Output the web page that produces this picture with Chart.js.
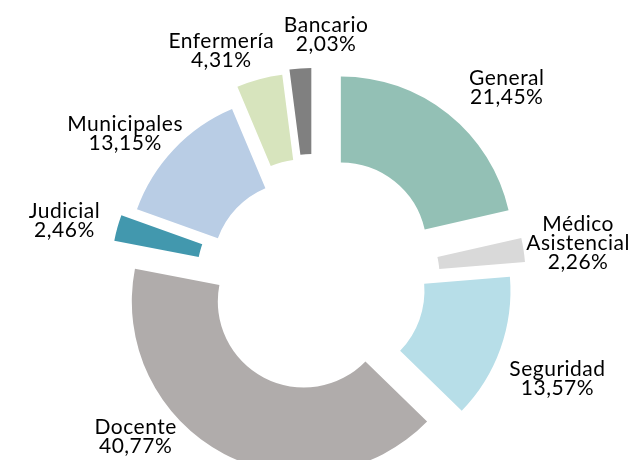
<!DOCTYPE html>
<html>
<head>
<meta charset="utf-8">
<script src="https://cdn.jsdelivr.net/npm/chart.js@4.4.0/dist/chart.umd.min.js"></script>
<style>
  html, body { margin: 0; padding: 0; background: #fff; }
  #wrap { width: 629px; height: 460px; }
</style>
</head>
<body>
<div id="wrap"><canvas id="chartCanvas" width="629" height="460"></canvas></div>
<script>
// Datos (porcentaje por sector)
const categorias = ["General", ["Médico", "Asistencial"], "Seguridad", "Docente", "Judicial", "Municipales", "Enfermería", "Bancario"];
const porcentajes = [21.45, 2.26, 13.57, 40.77, 2.46, 13.15, 4.31, 2.03];

// Estilo
const colores = ["#93c0b5", "#d9d9d9", "#b7dee8", "#b0acab", "#4298ae", "#b9cde5", "#d7e4bd", "#808080"];
const separacion = [43, 40, 26, 22, 32, 21, 38, 42]; // px que se separa cada porción (tipo Excel)
const giroEtiqueta = [6.1, 0.3, 1.9, 21.5, -1.6, -5.4, -6.8, 6.45]; // grados respecto al centro de la porción
const distEtiqueta = [274, 267, 262, 236, 257, 240, 249, 248];

const fuente = "21px Lato";
const altoLinea = 19;

function formato(v) {
  return v.toFixed(2).replace(".", ",") + "%";
}

// Separar porciones: traslada cada arco a lo largo de su ángulo medio
const explotar = {
  id: "explotar",
  afterDatasetUpdate(chart, args) {
    args.meta.data.forEach((arc, i) => {
      const mid = (arc.startAngle + arc.endAngle) / 2;
      arc.x += Math.cos(mid) * separacion[i];
      arc.y += Math.sin(mid) * separacion[i];
    });
  }
};

// Etiquetas de datos (nombre + porcentaje)
const etiquetas = {
  id: "etiquetas",
  afterDatasetsDraw(chart) {
    const ctx = chart.ctx;
    const meta = chart.getDatasetMeta(0);
    const area = chart.chartArea;
    const cx = (area.left + area.right) / 2;
    const cy = (area.top + area.bottom) / 2;
    ctx.save();
    ctx.font = fuente;
    ctx.letterSpacing = "0.5px";
    ctx.fillStyle = "#000";
    ctx.textAlign = "center";
    ctx.textBaseline = "middle";
    meta.data.forEach((arc, i) => {
      const ang = (arc.startAngle + arc.endAngle) / 2 + giroEtiqueta[i] * Math.PI / 180;
      const x = cx + Math.cos(ang) * distEtiqueta[i];
      const y = cy + Math.sin(ang) * distEtiqueta[i];
      const lineas = [].concat(categorias[i], formato(porcentajes[i]));
      const y0 = y - (lineas.length - 1) * altoLinea / 2;
      lineas.forEach((t, k) => ctx.fillText(t, x, y0 + k * altoLinea));
    });
    ctx.restore();
  }
};

const ctx = document.getElementById("chartCanvas").getContext("2d");
const chart = new Chart(ctx, {
  type: "doughnut",
  data: {
    labels: categorias,
    datasets: [{
      data: porcentajes,
      backgroundColor: colores,
      borderWidth: 0,
      hoverOffset: 0,
      clip: false
    }]
  },
  options: {
    responsive: false,
    animation: false,
    events: [],
    radius: 172,
    cutout: "50%",
    layout: { padding: { left: 0, right: 1, top: 104, bottom: 0 } },
    plugins: {
      legend: { display: false },
      tooltip: { enabled: false }
    }
  },
  plugins: [explotar, etiquetas]
});
</script>
</body>
</html>
